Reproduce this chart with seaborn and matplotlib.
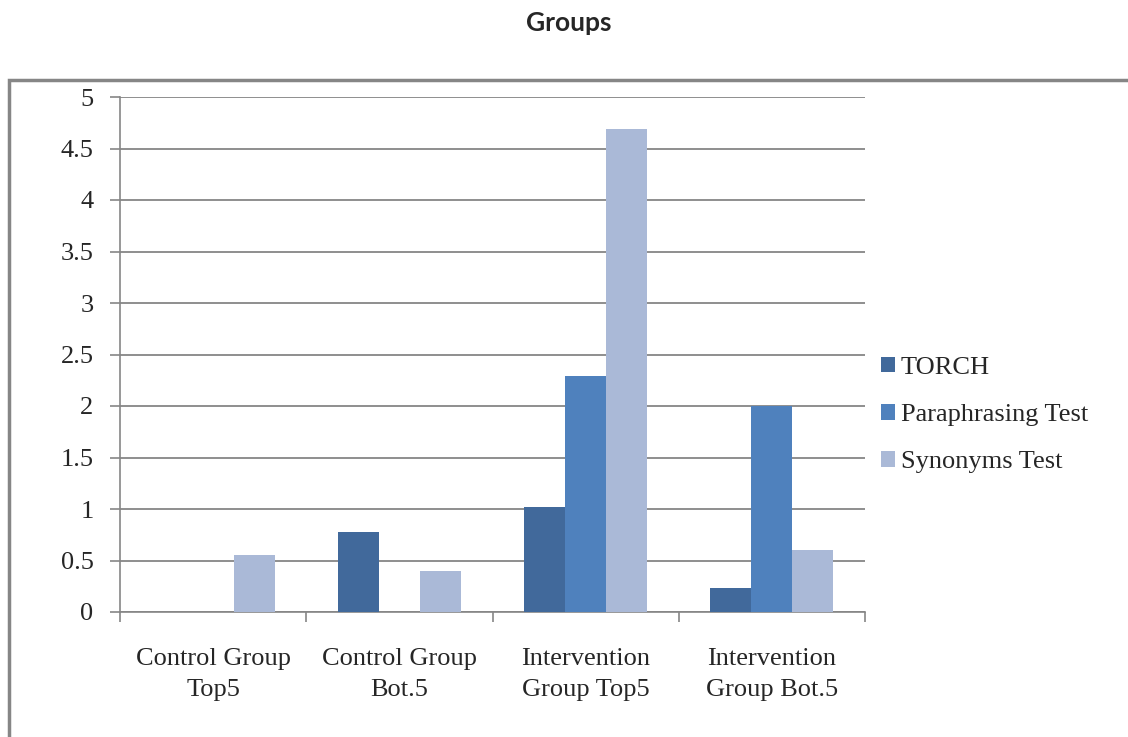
import matplotlib
matplotlib.use("Agg")
import matplotlib.pyplot as plt
import pandas as pd
import seaborn as sns
from matplotlib.patches import Rectangle

GROUPS = ["Control Group\nTop5", "Control Group\nBot.5",
          "Intervention\nGroup Top5", "Intervention\nGroup Bot.5"]
TESTS = ["TORCH", "Paraphrasing Test", "Synonyms Test"]
TORCH = [0.0, 0.78, 1.02, 0.23]
PARAPHRASING = [0.0, 0.0, 2.29, 2.0]
SYNONYMS = [0.55, 0.40, 4.69, 0.60]
COLORS = ["#41699B", "#4F81BD", "#AAB9D7"]
Y_TICKS = [0, 0.5, 1, 1.5, 2, 2.5, 3, 3.5, 4, 4.5, 5]

df = pd.DataFrame({
    "group": GROUPS * 3,
    "test": [t for t in TESTS for _ in GROUPS],
    "value": TORCH + PARAPHRASING + SYNONYMS,
})

sns.set_style("white")
plt.rcParams["font.family"] = ["Liberation Serif", "DejaVu Serif"]

fig = plt.figure(figsize=(11.28, 7.37), dpi=100)
ax = fig.add_axes([120 / 1128, 1 - 612 / 737, 745 / 1128, 515 / 737])

sns.barplot(data=df, x="group", y="value", hue="test", palette=COLORS,
            width=0.66, saturation=1, linewidth=0, ax=ax, zorder=3)

ax.set_ylim(0, 5)
ax.set_xlim(-0.5, 3.5)
ax.set_yticks(Y_TICKS)
ax.set_yticklabels([f"{v:g}" for v in Y_TICKS], fontsize=19)
ax.yaxis.grid(True, color="#868686", linewidth=1.3, zorder=0)
ax.set_axisbelow(True)
ax.set_xlabel("")
ax.set_ylabel("")

for side in ["top", "right"]:
    ax.spines[side].set_visible(False)
for side in ["left", "bottom"]:
    ax.spines[side].set_color("#868686")
    ax.spines[side].set_linewidth(1.2)

ax.tick_params(axis="y", which="major", left=True, length=7, width=1.2,
               color="#868686", pad=12)
ax.set_xticks([0, 1, 2, 3])
ax.set_xticklabels(GROUPS, fontsize=19, linespacing=1.55)
ax.tick_params(axis="x", which="major", length=0, pad=26)
ax.set_xticks([-0.5, 0.5, 1.5, 2.5, 3.5], minor=True)
ax.tick_params(axis="x", which="minor", bottom=True, length=7, width=1.2,
               color="#868686")

handles, labels = ax.get_legend_handles_labels()
ax.legend(handles, labels, loc="center left", bbox_to_anchor=(1.0, 0.383),
          frameon=False, fontsize=19, handlelength=0.55, handleheight=0.55,
          handletextpad=0.2, labelspacing=0.94, borderaxespad=0.2)

fig.text(569 / 1128, 1 - 23 / 737, "Groups", ha="center", va="center",
         fontsize=19, fontweight="bold", family=["Lato", "DejaVu Sans"])

fig.patches.append(Rectangle((9 / 1128, 0 - 0.05), 1.2, 1 - 80 / 737 + 0.05,
                             transform=fig.transFigure, fill=False,
                             edgecolor="#868686", linewidth=2.5))

fig.savefig("out.png", dpi=100)
